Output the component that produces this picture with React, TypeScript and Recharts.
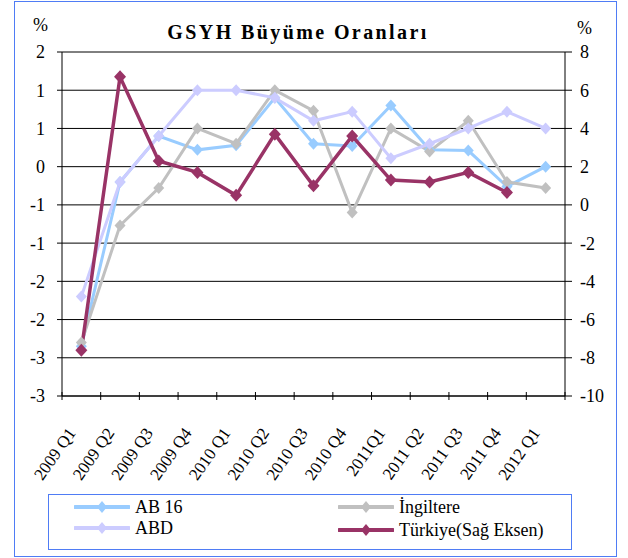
import { LineChart, Line, XAxis, YAxis, CartesianGrid } from "recharts";

const quarters = [
  "2009 Q1", "2009 Q2", "2009 Q3", "2009 Q4",
  "2010 Q1", "2010 Q2", "2010 Q3", "2010 Q4",
  "2011Q1", "2011 Q2", "2011 Q3", "2011 Q4", "2012 Q1",
];
const ab16 = [-2.35, -0.2, 0.4, 0.22, 0.28, 0.9, 0.3, 0.27, 0.8, 0.22, 0.21, -0.26, 0.0];
const ingiltere = [-2.3, -0.77, -0.28, 0.5, 0.3, 1.0, 0.73, -0.6, 0.5, 0.2, 0.6, -0.2, -0.28];
const abd = [-1.7, -0.2, 0.4, 1.0, 1.0, 0.9, 0.6, 0.72, 0.11, 0.3, 0.5, 0.72, 0.5];
const turkiye = [-7.6, 6.7, 2.3, 1.7, 0.5, 3.7, 1.0, 3.6, 1.3, 1.2, 1.7, 0.65, null];

const leftTicks = [-3, -2.5, -2, -1.5, -1, -0.5, 0, 0.5, 1, 1.5];
const rightTicks = [-10, -8, -6, -4, -2, 0, 2, 4, 6, 8];

const data = quarters.map((q, i) => ({
  q,
  ab16: ab16[i],
  ingiltere: ingiltere[i],
  abd: abd[i],
  turkiye: turkiye[i],
}));

const FONT = "Liberation Serif";
const BLUE_BORDER = "#4f7cf5";
const BAND = 503 / quarters.length;

const C_AB16 = "#99ccff";
const C_ING = "#c0c0c0";
const C_ABD = "#ccccff";
const C_TR = "#993366";

// excel style rounding of the 0.5 step labels (1.5 -> 2, -0.5 -> -1)
const roundLabel = (v: number) => {
  const r = Math.sign(v) * Math.round(Math.abs(v));
  return String(r === 0 ? 0 : r);
};

const diamond = (color: string, w: number, h: number) => (p: any) => {
  const { cx, cy, index } = p;
  if (cx == null || cy == null || p.value == null) return <g key={index} />;
  return (
    <path
      key={index}
      d={`M${cx},${cy - h / 2} L${cx + w / 2},${cy} L${cx},${cy + h / 2} L${cx - w / 2},${cy} Z`}
      fill={color}
    />
  );
};

function QuarterTick(props: any) {
  const { x, y, payload, index } = props;
  const last = index === quarters.length - 1;
  const tx = x - 5;
  const ty = y + 37;
  return (
    <g>
      <line x1={x - BAND / 2} x2={x - BAND / 2} y1={y - 4} y2={y + 4} stroke="#000" />
      {last && <line x1={x + BAND / 2} x2={x + BAND / 2} y1={y - 4} y2={y + 4} stroke="#000" />}
      <text
        x={tx}
        y={ty}
        textAnchor="end"
        transform={`rotate(-55, ${tx}, ${ty})`}
        fontSize={17}
        style={{ fontFamily: FONT }}
        fill="#000"
      >
        {payload.value}
      </text>
    </g>
  );
}

function LegendItem({ color, label, x, y, w = 10, h = 12 }: any) {
  return (
    <div style={{ position: "absolute", left: x, top: y - 11, height: 22, display: "flex", alignItems: "center" }}>
      <svg width={56} height={22} style={{ display: "block" }}>
        <line x1={1} x2={55} y1={11} y2={11} stroke={color} strokeWidth={4} strokeLinecap="round" />
        <path d={`M28,${11 - h / 2} L${28 + w / 2},11 L28,${11 + h / 2} L${28 - w / 2},11 Z`} fill={color} />
      </svg>
      <span style={{ marginLeft: 5, fontSize: 18, fontFamily: FONT, color: "#000", whiteSpace: "nowrap" }}>{label}</span>
    </div>
  );
}

export default function App() {
  return (
    <div style={{ position: "absolute", left: 0, top: 0, width: 628, height: 558, background: "#fff", fontFamily: FONT }}>
      {/* outer frame */}
      <div style={{ position: "absolute", left: 14, top: 1, width: 603, height: 556, border: `1.5px solid ${BLUE_BORDER}`, boxSizing: "border-box" }} />

      <div style={{ position: "absolute", left: 0, top: 19, width: 596, textAlign: "center", fontSize: 20, fontWeight: "bold", letterSpacing: 2.4, lineHeight: "26px" }}>
        GSYH Büyüme Oranları
      </div>
      <div style={{ position: "absolute", left: 33, top: 14, fontSize: 18, lineHeight: "22px" }}>%</div>
      <div style={{ position: "absolute", left: 577, top: 17, fontSize: 18, lineHeight: "22px" }}>%</div>

      <div style={{ position: "absolute", left: 0, top: 0, fontFamily: FONT }}>
        <LineChart width={628} height={558} data={data} margin={{ top: 52, right: 23, bottom: 72, left: 22 }} style={{ fontFamily: FONT }}>
          <CartesianGrid yAxisId="left" vertical={false} stroke="#000" strokeWidth={1} />
          <XAxis
            dataKey="q"
            interval={0}
            tickSize={0}
            tickMargin={0}
            height={90}
            padding={{ left: BAND / 2, right: BAND / 2 }}
            axisLine={{ stroke: "#000" }}
            tickLine={false}
            tick={<QuarterTick />}
          />
          <YAxis
            yAxisId="left"
            domain={[-3, 1.5]}
            ticks={leftTicks}
            tickFormatter={roundLabel}
            width={40}
            tickSize={5}
            tickMargin={12}
            axisLine={{ stroke: "#000" }}
            tickLine={{ stroke: "#000" }}
            tick={{ fill: "#000", fontSize: 18, fontFamily: FONT }}
          />
          <YAxis
            yAxisId="right"
            orientation="right"
            domain={[-10, 8]}
            ticks={rightTicks}
            width={40}
            tickSize={7}
            tickMargin={8}
            axisLine={{ stroke: "#000" }}
            tickLine={{ stroke: "#000" }}
            tick={{ fill: "#000", fontSize: 18, fontFamily: FONT, textAnchor: "start" }}
          />
          <Line yAxisId="left" dataKey="ab16" stroke={C_AB16} strokeWidth={3} dot={diamond(C_AB16, 11, 12)} activeDot={false} isAnimationActive={false} />
          <Line yAxisId="left" dataKey="ingiltere" stroke={C_ING} strokeWidth={3} dot={diamond(C_ING, 11, 12)} activeDot={false} isAnimationActive={false} />
          <Line yAxisId="left" dataKey="abd" stroke={C_ABD} strokeWidth={3} dot={diamond(C_ABD, 11, 12)} activeDot={false} isAnimationActive={false} />
          <Line yAxisId="right" dataKey="turkiye" stroke={C_TR} strokeWidth={3.5} dot={diamond(C_TR, 12, 13)} activeDot={false} isAnimationActive={false} />
        </LineChart>
      </div>

      {/* legend */}
      <div style={{ position: "absolute", left: 48, top: 494, width: 524, height: 56, border: `1px solid ${BLUE_BORDER}`, boxSizing: "border-box" }} />
      <LegendItem color={C_AB16} label="AB 16" x={74} y={507} />
      <LegendItem color={C_ABD} label="ABD" x={74} y={528} />
      <LegendItem color={C_ING} label="İngiltere" x={338} y={507} />
      <LegendItem color={C_TR} label="Türkiye(Sağ Eksen)" x={338} y={530} />
    </div>
  );
}
